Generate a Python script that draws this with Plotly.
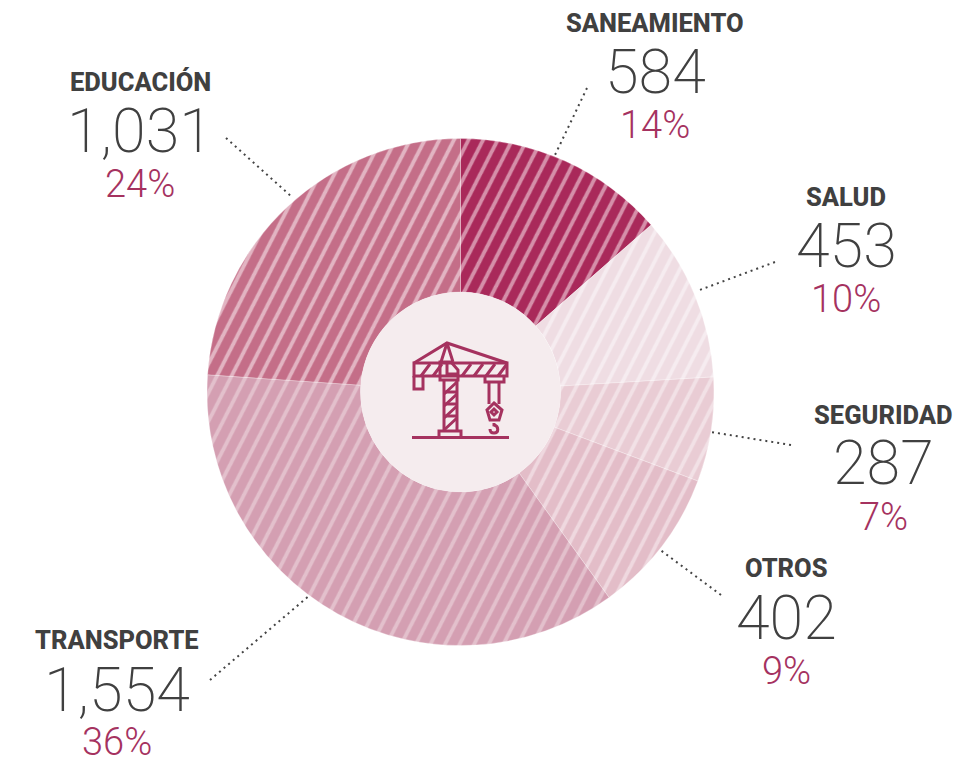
import plotly.graph_objects as go

W, H = 972, 759
categories = ["SANEAMIENTO", "SALUD", "SEGURIDAD", "OTROS", "TRANSPORTE", "EDUCACIÓN"]
values = [584, 453, 287, 402, 1554, 1031]
percents = ["14%", "10%", "7%", "9%", "36%", "24%"]
bg_colors = ["#A9295A", "#EFDDE3", "#E9CCD4", "#E3BDC8", "#D49FB2", "#C46E88"]
fg_colors = ["#D58FA9", "#F6ECF0", "#F2E1E6", "#EFD8DF", "#E3C0CC", "#E2B4C2"]
label_x = [655, 846, 883, 786, 117, 140]
label_y = [23, 197, 415, 568, 640, 82]
value_y = [72, 246, 463, 618, 690, 131]
pct_y = [125, 299, 517, 671, 742, 184]
leaders = [((587, 88), (555, 155)), ((775, 262), (697, 291)), ((791, 445), (711, 432)),
           ((721, 595), (659, 549)), ((210, 680), (310, 595)), ((226, 138), (293, 198))]

CX, CY, R, HOLE = 460.5, 392, 253.5, 100
DARK, ROSE = "#404040", "#A5325F"
LABEL_FONT, NUM_FONT, PCT_FONT = "Roboto", "Roboto", "Roboto"

fig = go.Figure()
fig.add_trace(go.Pie(
    labels=categories, values=values, sort=False, direction="clockwise", rotation=0,
    hole=HOLE / R, textinfo="none", hoverinfo="skip", showlegend=False,
    domain=dict(x=[(CX - R) / W, (CX + R) / W], y=[1 - (CY + R) / H, 1 - (CY - R) / H]),
    marker=dict(colors=bg_colors, line=dict(color="rgba(255,255,255,0.35)", width=0.8),
                pattern=dict(shape="/", size=13, solidity=0.3, bgcolor=bg_colors,
                             fgcolor=fg_colors, fillmode="replace")),
))
for (a, b) in leaders:
    fig.add_trace(go.Scatter(x=[a[0], b[0]], y=[a[1], b[1]], mode="lines", hoverinfo="skip",
                             showlegend=False, line=dict(color="#444444", width=2, dash="2px,4px")))

shapes = [dict(type="circle", xref="x", yref="y", x0=CX - HOLE, x1=CX + HOLE, y0=CY - HOLE, y1=CY + HOLE,
               fillcolor="#F5ECEE", line=dict(width=0))]
crane = [
    "M412,437.5 L509,437.5",
    "M414,363 L447,343 L507,363",
    "M414,363 H507 V376 H414 Z",
    "M414,376 V389 H423 V376",
    "M421,376 L430,364 M433,376 L442,364 M462,376 L471,364 M474,376 L483,364 M486,376 L495,364 M498,376 L507,364",
    "M440,362 H451 L458,370 V380 H440 Z",
    "M447,343 L441,362 M447,343 L453,362",
    "M447,364 V374 H457",
    "M444,380 V431 M457,380 V431",
    "M444,394 L457,382 M444,406 L457,394 M444,418 L457,406 M444,430 L457,418",
    "M444,392 H457 M444,404 H457 M444,416 H457",
    "M439,437 V431 H461 V437",
    "M485,376 V382 H504 V376",
    "M489,382 V404 M499,382 V404",
    "M494,403 L502,410 L499,420 L490,420 L487,410 Z",
    "M494,423 V425 C499,426 499,433 494,433 C491,433 490,431 490,429",
    "M494,409 L497,412 L494,415 L491,412 Z",
]
for p in crane:
    shapes.append(dict(type="path", xref="x", yref="y", path=p,
                       line=dict(color=ROSE, width=3), fillcolor="rgba(0,0,0,0)"))

annotations = []
def note(x, y, text, font, size, color, weight):
    annotations.append(dict(xref="x", yref="y", x=x, y=y, text=text, showarrow=False,
                            xanchor="center", yanchor="middle",
                            font=dict(family=font, size=size, color=color, weight=weight)))

for i, cat in enumerate(categories):
    note(label_x[i], label_y[i], cat, LABEL_FONT, 25.5, DARK, 800)
    note(label_x[i], value_y[i], f"{values[i]:,}", NUM_FONT, 61, DARK, 200)
    note(label_x[i], pct_y[i], percents[i], PCT_FONT, 38, ROSE, 350)

axis = dict(visible=False, fixedrange=True)
fig.update_layout(
    width=W, height=H, autosize=False, margin=dict(l=0, r=0, t=0, b=0),
    paper_bgcolor="white", plot_bgcolor="rgba(0,0,0,0)", showlegend=False,
    xaxis=dict(range=[0, W], **axis), yaxis=dict(range=[H, 0], **axis),
    shapes=shapes, annotations=annotations,
)

post = """
document.body.style.margin = '0';
document.documentElement.style.overflow = 'hidden';
var gd = document.getElementById('{plot_id}');
function tilt() { gd.querySelectorAll('pattern').forEach(function (p) { p.setAttribute('patternTransform', 'rotate(-18)'); }); }
tilt(); if (gd.on) gd.on('plotly_afterplot', tilt);
"""
fig.write_html("out.html", post_script=post, config=dict(displayModeBar=False),
               default_width=W, default_height=H)
